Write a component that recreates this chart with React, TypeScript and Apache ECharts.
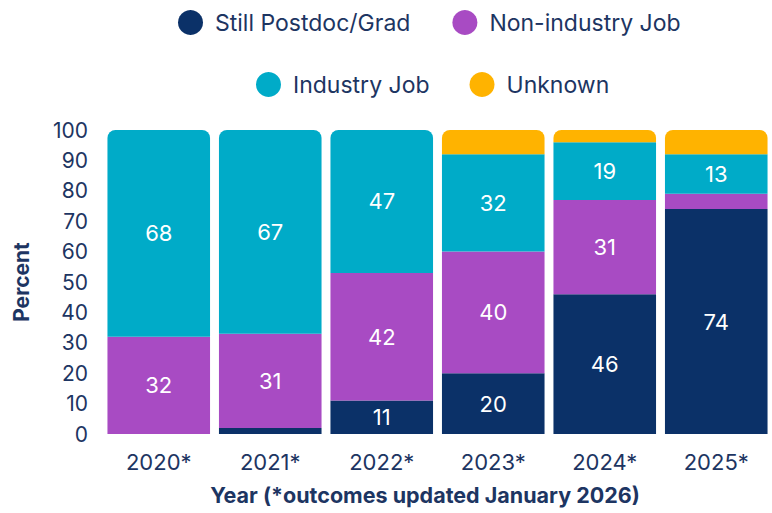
import React, { useEffect, useRef } from "react";
import * as echarts from "echarts";

const categories = ["2020*", "2021*", "2022*", "2023*", "2024*", "2025*"];
const stillPostdoc = [0, 2, 11, 20, 46, 74];
const nonIndustry = [32, 31, 42, 40, 31, 5];
const industry = [68, 67, 47, 32, 19, 13];
const unknown = [0, 0, 0, 8, 4, 8];
const yTicks = [0, 10, 20, 30, 40, 50, 60, 70, 80, 90, 100];

const seriesNames = ["Still Postdoc/Grad", "Non-industry Job", "Industry Job", "Unknown"];
const colors = ["#0b3168", "#a84bc3", "#00abc8", "#ffb300"];
const textColor = "#1d3562";
const FONT = "Inter, 'Noto Sans', sans-serif";

export default function App() {
  const ref = useRef<HTMLDivElement>(null);
  useEffect(() => {
    if (!ref.current) return;
    const chart = echarts.init(ref.current, undefined, { renderer: "svg" });
    const all = [stillPostdoc, nonIndustry, industry, unknown];
    const topIdx = categories.map((_, i) => {
      let t = 0;
      all.forEach((s, k) => {
        if (s[i] > 0) t = k;
      });
      return t;
    });
    const series = all.map((vals, k) => ({
      name: seriesNames[k],
      type: "bar",
      stack: "total",
      barCategoryGap: "8%",
      itemStyle: { color: colors[k] },
      label: {
        show: true,
        position: "inside",
        color: "#ffffff",
        fontSize: 22,
        fontFamily: FONT,
        formatter: (p: any) => (p.value >= 10 ? String(p.value) : ""),
      },
      data: vals.map((v, i) => ({
        value: v,
        itemStyle: { borderRadius: topIdx[i] === k ? [8, 8, 0, 0] : 0 },
      })),
    }));
    const legendCommon = {
      icon: "circle",
      itemWidth: 25,
      itemHeight: 25,
      padding: 0,
      textStyle: { color: textColor, fontSize: 23, fontFamily: FONT, padding: [0, 0, 0, 7] },
    };
    chart.setOption({
      animation: false,
      legend: [
        { ...legendCommon, itemGap: 42, top: 10, left: 178, data: seriesNames.slice(0, 2) },
        { ...legendCommon, itemGap: 40, top: 72, left: 256, data: seriesNames.slice(2, 4) },
      ],
      grid: { left: 103, right: 0, top: 130, bottom: 79, containLabel: false, outerBoundsMode: "none" },
      xAxis: {
        type: "category",
        data: categories,
        axisLine: { show: false },
        axisTick: { show: false },
        axisLabel: { color: textColor, fontSize: 22, fontFamily: FONT, margin: 17 },
        name: "Year (*outcomes updated January 2026)",
        nameLocation: "middle",
        nameGap: 50,
        nameTextStyle: {
          color: textColor,
          fontSize: 21.5,
          fontWeight: "bold",
          fontFamily: FONT,
          padding: [0, 25, 0, 0],
        },
      },
      yAxis: {
        type: "value",
        min: yTicks[0],
        max: yTicks[yTicks.length - 1],
        interval: 10,
        splitLine: { show: false },
        axisLine: { show: false },
        axisTick: { show: false },
        axisLabel: { color: textColor, fontSize: 21, fontFamily: FONT, margin: 15 },
        name: "Percent",
        nameLocation: "middle",
        nameGap: 71,
        nameTextStyle: { color: textColor, fontSize: 21, fontWeight: "bold", fontFamily: FONT },
      },
      series,
    });
    return () => chart.dispose();
  }, []);
  return <div ref={ref} style={{ width: 772, height: 513, position: "absolute", left: 0, top: 0 }} />;
}
